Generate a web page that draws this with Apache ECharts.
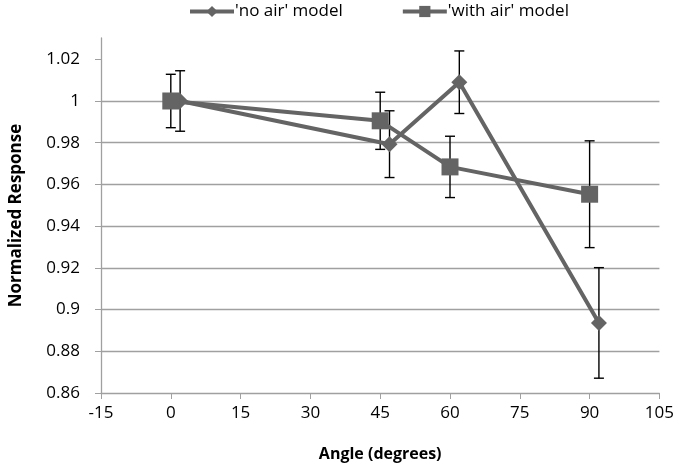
<!DOCTYPE html>
<html>
<head>
<meta charset="utf-8">
<script src="https://cdn.jsdelivr.net/npm/echarts@6/dist/echarts.min.js"></script>
<style>html,body{margin:0;padding:0;background:#fff}#c{width:677px;height:469px}</style>
</head>
<body>
<div id="c"></div>
<script>
var FONT = "'Open Sans', 'Liberation Sans', sans-serif";
var seriesNames = ["'no air' model", "'with air' model"];
var noAirX = [2, 47, 62, 92];
var noAirY = [1.0, 0.9793, 1.009, 0.8936];
var noAirErr = [0.0145, 0.016, 0.015, 0.0265];
var withAirX = [0, 45, 60, 90];
var withAirY = [1.0, 0.9905, 0.9684, 0.9553];
var withAirErr = [0.0128, 0.0137, 0.0147, 0.0256];
var yTicks = [0.86, 0.88, 0.9, 0.92, 0.94, 0.96, 0.98, 1, 1.02];

function pts(xs, ys) { return xs.map(function (x, i) { return [x, ys[i]]; }); }
function errData(xs, ys, es) { return xs.map(function (x, i) { return [x, ys[i] - es[i], ys[i] + es[i]]; }); }

function errRender(params, api) {
  var lo = api.coord([api.value(0), api.value(1)]);
  var hi = api.coord([api.value(0), api.value(2)]);
  var w = 5;
  var st = { stroke: '#000', lineWidth: 1.4 };
  return { type: 'group', children: [
    { type: 'line', shape: { x1: lo[0], y1: lo[1], x2: hi[0], y2: hi[1] }, style: st },
    { type: 'line', shape: { x1: lo[0] - w, y1: lo[1], x2: lo[0] + w, y2: lo[1] }, style: st },
    { type: 'line', shape: { x1: hi[0] - w, y1: hi[1], x2: hi[0] + w, y2: hi[1] }, style: st }
  ]};
}

var chart = echarts.init(document.getElementById('c'));
var gray = '#646464';
chart.setOption({
  animation: false,
  backgroundColor: '#fff',
  grid: { left: 99, right: 16, top: 38, bottom: 76 },
  legend: {
    top: -2, left: 183, itemWidth: 44, itemHeight: 14, itemGap: 58,
    data: seriesNames,
    lineStyle: { width: 4 },
    textStyle: { fontFamily: FONT, fontSize: 17, color: '#000', padding: [0, 0, 0, -4] }
  },
  xAxis: {
    type: 'value', min: -15, max: 105, interval: 15,
    name: 'Angle (degrees)', nameLocation: 'middle', nameGap: 53,
    nameTextStyle: { fontFamily: FONT, fontSize: 16, fontWeight: 'bold', color: '#000' },
    axisLine: { show: true, onZero: false, lineStyle: { color: '#a0a0a0', width: 1.3 } },
    axisTick: { show: true, length: 6, lineStyle: { color: '#a0a0a0' } },
    axisLabel: { fontFamily: FONT, fontSize: 17, color: '#000', margin: 12 },
    splitLine: { show: false }
  },
  yAxis: {
    type: 'value', min: 0.86, max: 1.0302, interval: 0.02,
    name: 'Normalized Response', nameLocation: 'middle', nameGap: 76, nameRotate: 90,
    nameTextStyle: { fontFamily: FONT, fontSize: 17, fontWeight: 'bold', color: '#000' },
    axisLine: { show: true, onZero: false, lineStyle: { color: '#a0a0a0', width: 1.3 } },
    axisTick: { show: true, length: 6, customValues: yTicks, lineStyle: { color: '#a0a0a0' } },
    axisLabel: { fontFamily: FONT, fontSize: 17, color: '#000', margin: 21, customValues: yTicks,
      formatter: function (v) { return String(+v.toFixed(2)); } },
    splitLine: { show: true, showMaxLine: false, showMinLine: false, lineStyle: { color: '#a0a0a0', width: 1.3 } }
  },
  series: [
    { type: 'custom', name: 'errNoAir', renderItem: errRender, data: errData(noAirX, noAirY, noAirErr), z: 1, silent: true },
    { type: 'custom', name: 'errWithAir', renderItem: errRender, data: errData(withAirX, withAirY, withAirErr), z: 1, silent: true },
    { type: 'line', name: seriesNames[0], data: pts(noAirX, noAirY), symbol: 'diamond', symbolSize: 16,
      lineStyle: { color: gray, width: 4 }, itemStyle: { color: gray }, z: 3 },
    { type: 'line', name: seriesNames[1], data: pts(withAirX, withAirY), symbol: 'rect', symbolSize: 17,
      lineStyle: { color: gray, width: 4 }, itemStyle: { color: gray }, z: 3 }
  ]
});
</script>
</body>
</html>
